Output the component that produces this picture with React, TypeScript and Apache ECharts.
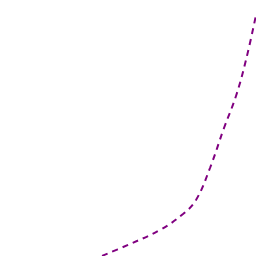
import React, { useEffect, useRef } from "react";
import * as echarts from "echarts";

const xs = [92, 130, 160, 183, 196, 210, 224, 236, 246, 256];
const ys = [-4, 12, 26, 42, 56, 88, 128, 160, 196, 241];

export default function App() {
  const ref = useRef<HTMLDivElement>(null);
  useEffect(() => {
    const chart = echarts.init(ref.current!, null, { renderer: "svg" });
    chart.setOption({
      animation: false,
      grid: { left: 0, right: 0, top: 0, bottom: 0 },
      xAxis: { type: "value", min: 0, max: 256, show: false },
      yAxis: { type: "value", min: 0, max: 256, show: false },
      series: [
        {
          type: "line",
          data: xs.map((x, i) => [x, ys[i]]),
          showSymbol: false,
          smooth: 0.4,
          clip: true,
          lineStyle: { color: "#800080", width: 2, type: [6, 5] },
        },
      ],
    });
    return () => chart.dispose();
  }, []);
  return <div ref={ref} style={{ position: "fixed", left: 0, top: 0, width: 256, height: 256 }} />;
}
